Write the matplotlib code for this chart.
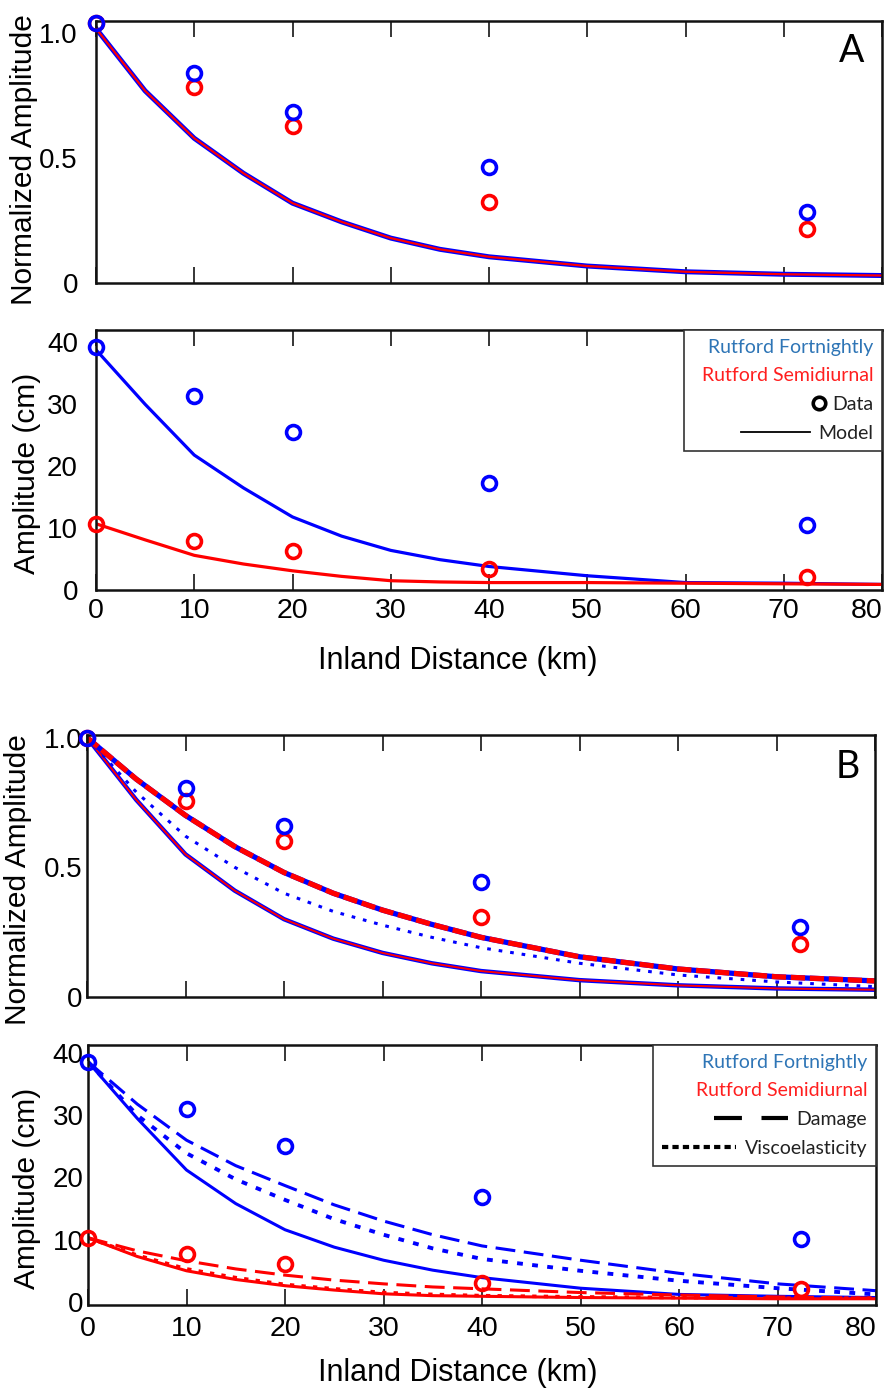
import numpy as np
import matplotlib
matplotlib.use('Agg')
import matplotlib.pyplot as plt
from matplotlib.lines import Line2D
from matplotlib.legend_handler import HandlerLine2D

plt.rcParams['font.family'] = ['Liberation Sans', 'DejaVu Sans']

# ---- data ----
x_data = [0, 10, 20, 40, 72.4]
x_model = [0, 5, 10, 15, 20, 25, 30, 35, 40, 50, 60, 70, 80]

# panel A, normalized
normA_fort = [1.04, 0.84, 0.684, 0.464, 0.284]
normA_semi = [1.04, 0.784, 0.628, 0.324, 0.216]
normA_model = [1.02, 0.77, 0.58, 0.44, 0.32, 0.245, 0.18, 0.135, 0.105, 0.068, 0.045, 0.035, 0.03]

# panel A, amplitude (cm)
ampA_fort = [39.2, 31.4, 25.6, 17.3, 10.5]
ampA_semi = [10.7, 7.9, 6.3, 3.4, 2.1]
modelA_fort = [38.8, 30.0, 21.8, 16.5, 11.8, 8.7, 6.4, 4.9, 3.8, 2.3, 1.2, 1.1, 0.9]
modelA_semi = [10.7, 8.1, 5.6, 4.2, 3.1, 2.2, 1.5, 1.3, 1.2, 1.2, 1.1, 1.0, 0.9]

# panel B, normalized
normB_fort = [1.0, 0.804, 0.658, 0.442, 0.269]
normB_semi = [1.0, 0.754, 0.60, 0.308, 0.204]
normB_model = [1.0, 0.76, 0.55, 0.41, 0.30, 0.225, 0.17, 0.13, 0.10, 0.065, 0.045, 0.033, 0.028]
normB_damage_fort = [1.0, 0.84, 0.70, 0.58, 0.48, 0.40, 0.335, 0.28, 0.23, 0.155, 0.108, 0.078, 0.062]
normB_damage_semi = [1.0, 0.84, 0.70, 0.58, 0.48, 0.40, 0.335, 0.28, 0.23, 0.155, 0.108, 0.078, 0.062]
normB_visco_fort = [1.0, 0.79, 0.62, 0.50, 0.40, 0.33, 0.277, 0.23, 0.19, 0.13, 0.085, 0.058, 0.04]

# panel B, amplitude (cm)
ampB_fort = [38.6, 31.0, 25.1, 16.9, 10.1]
ampB_semi = [10.3, 7.7, 6.1, 3.1, 2.1]
modelB_fort = [38.6, 29.5, 21.2, 15.8, 11.6, 8.8, 6.7, 5.1, 3.9, 2.2, 1.2, 0.9, 0.7]
damageB_fort = [38.6, 31.8, 26.0, 21.9, 18.7, 15.6, 13.0, 10.8, 9.0, 6.7, 4.6, 2.9, 1.8]
viscoB_fort = [38.6, 30.0, 23.9, 19.7, 16.4, 13.3, 10.8, 8.6, 6.9, 5.0, 3.4, 2.2, 1.2]
modelB_semi = [10.3, 7.3, 5.0, 3.6, 2.6, 1.9, 1.3, 1.0, 0.9, 0.7, 0.6, 0.5, 0.5]
damageB_semi = [10.3, 8.2, 6.6, 5.3, 4.3, 3.5, 2.9, 2.4, 2.1, 1.5, 1.1, 0.8, 0.6]
viscoB_semi = [10.3, 7.5, 5.3, 3.9, 2.8, 2.1, 1.5, 1.2, 1.0, 0.8, 0.7, 0.6, 0.6]

xticks = [0, 10, 20, 30, 40, 50, 60, 70, 80]
blue = '#0000ff'
red = '#ff0000'
W, H = 885, 1395


def box(l, t, r, b):
    return [l / W, 1 - b / H, (r - l) / W, (b - t) / H]


fig = plt.figure(figsize=(W / 100, H / 100), dpi=100)
axA1 = fig.add_axes(box(96, 21, 882, 283))
axA2 = fig.add_axes(box(96, 330, 882, 590))
axB1 = fig.add_axes(box(87, 735, 875, 997))
axB2 = fig.add_axes(box(88, 1045, 876, 1305))

circ = dict(ls='none', marker='o', ms=10, mfc='none', mew=2.6, clip_on=False, zorder=5)

# A normalized
axA1.plot(x_model, normA_model, color=blue, lw=3.6)
axA1.plot(x_model, normA_model, color=red, lw=1.6)
axA1.plot(x_data, normA_semi, color=red, **circ)
axA1.plot(x_data, normA_fort, color=blue, **circ)

# A amplitude
axA2.plot(x_model, modelA_fort, color=blue, lw=2.3)
axA2.plot(x_model, modelA_semi, color=red, lw=2.3)
axA2.plot(x_data, ampA_fort, color=blue, **circ)
axA2.plot(x_data, ampA_semi, color=red, **circ)

# B normalized
axB1.plot(x_model, normB_model, color=blue, lw=3.2)
axB1.plot(x_model, normB_model, color=red, lw=1.4)
axB1.plot(x_model, normB_visco_fort, color=blue, lw=2.2, ls=(0, (1.2, 2.6)))
axB1.plot(x_model, normB_damage_fort, color=blue, lw=3.8)
axB1.plot(x_model, normB_damage_semi, color=red, lw=3.8, ls=(0, (2.7, 0.9)))
axB1.plot(x_data, normB_semi, color=red, **circ)
axB1.plot(x_data, normB_fort, color=blue, **circ)

# B amplitude
axB2.plot(x_model, modelB_fort, color=blue, lw=2.2)
axB2.plot(x_model, damageB_fort, color=blue, lw=2.2, ls=(0, (6.5, 2.8)))
axB2.plot(x_model, viscoB_fort, color=blue, lw=2.8, ls=(0, (1.5, 2.4)))
axB2.plot(x_model, modelB_semi, color=red, lw=2.2)
axB2.plot(x_model, viscoB_semi, color=red, lw=2.6, ls=(0, (1.2, 2.0)))
axB2.plot(x_model, damageB_semi, color=red, lw=2.2, ls=(0, (6.5, 2.8)))
axB2.plot(x_data, ampB_fort, color=blue, **circ)
axB2.plot(x_data, ampB_semi, color=red, **circ)

axA1.set_ylim(0, 1.05)
axA2.set_ylim(0, 42)
axB1.set_ylim(0, 1.01)
axB2.set_ylim(-0.5, 41.3)

for ax in [axA1, axA2, axB1, axB2]:
    ax.set_xlim(0, 80)
    ax.set_xticks(xticks)
    ax.tick_params(axis='x', direction='in', top=True, length=11.5, width=1.1,
                   labelsize=20.5, pad=6)
    ax.tick_params(axis='y', length=0, labelsize=20)
    for s in ax.spines.values():
        s.set_linewidth(1.8)
        s.set_color('#111111')

for ax in [axA1, axB1]:
    ax.set_yticks([0, 0.5, 1.0])
    ax.set_yticklabels(['0', '0.5', '1.0'])
    ax.tick_params(axis='x', labelbottom=False)
    ax.set_ylabel('Normalized Amplitude', fontsize=21.5)
for ax in [axA2, axB2]:
    ax.set_yticks([0, 10, 20, 30, 40])
    ax.set_ylabel('Amplitude (cm)', fontsize=21.5)
    ax.set_xlabel('Inland Distance (km)', fontsize=22)
    labs = ax.get_xticklabels()
    labs[-1].set_ha('right')

axA1.tick_params(axis='y', pad=13)
axA2.tick_params(axis='y', pad=13)
axB1.tick_params(axis='y', pad=3)
axB2.tick_params(axis='y', pad=3)
axB2.tick_params(axis='x', pad=8)

axA1.yaxis.set_label_coords(-0.074, 0.47)
axA2.yaxis.set_label_coords(-0.07, 0.45)
axB1.yaxis.set_label_coords(-0.07, 0.45)
axB2.yaxis.set_label_coords(-0.06, 0.45)
axA2.xaxis.set_label_coords((458 - 96) / 786, -0.215)
axB2.xaxis.set_label_coords((458 - 88) / 788, -0.205)

axA1.text(0.978, 0.955, 'A', transform=axA1.transAxes, ha='right', va='top',
          fontsize=27, family='Lato')
axB1.text(0.981, 0.945, 'B', transform=axB1.transAxes, ha='right', va='top',
          fontsize=27, family='Lato')


def right_legend(ax, handles, labels, colors, hlen, hmap=None):
    leg = ax.legend(handles, labels, loc='upper right', bbox_to_anchor=(1, 1),
                    borderaxespad=0, markerfirst=False, handlelength=hlen,
                    handletextpad=0.45, labelspacing=0.6, borderpad=0.45,
                    fancybox=False, edgecolor='#333333', framealpha=1,
                    prop={'family': 'Lato', 'size': 14}, handler_map=hmap)
    leg.get_frame().set_linewidth(1.2)
    for txt, c in zip(leg.get_texts(), colors):
        txt.set_color(c)
    # put the handles in front of the right-aligned texts
    for col in leg._legend_handle_box.get_children():
        for row, h in zip(col.get_children(), handles):
            kids = row.get_children()
            kids.reverse()
            if h is blank:
                kids[0].width = 0
    return leg


blank = Line2D([], [], color='none')
data_h = Line2D([], [], ls='none', marker='o', ms=9, mfc='white', mec='black', mew=2.6)
model_h = Line2D([], [], color='black', lw=1.3)
right_legend(axA2, [blank, blank, data_h, model_h],
             ['Rutford Fortnightly', 'Rutford Semidiurnal', 'Data', 'Model'],
             ['#2e75b6', '#ff1f1f', '#222222', '#222222'], 3.5,
             {data_h: HandlerLine2D(numpoints=1, xpad=3.0)})

dam_h = Line2D([], [], color='black', lw=3, ls=(0, (6.7, 4.7)))
vis_h = Line2D([], [], color='black', lw=3, ls=(0, (1.5, 1.0)))
right_legend(axB2, [blank, blank, dam_h, vis_h],
             ['Rutford Fortnightly', 'Rutford Semidiurnal', 'Damage', 'Viscoelasticity'],
             ['#2e75b6', '#ff1f1f', '#222222', '#222222'], 3.8)

fig.savefig('out.png', dpi=100)
